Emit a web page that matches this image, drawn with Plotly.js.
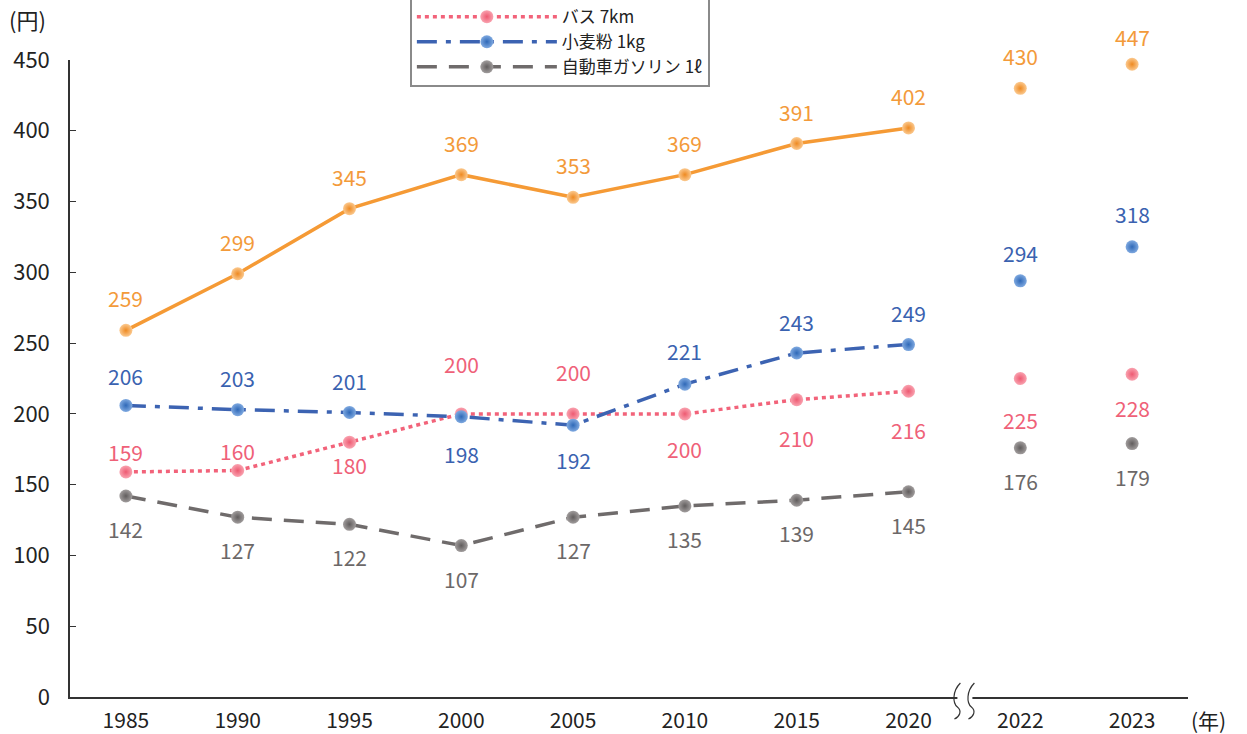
<!DOCTYPE html>
<html>
<head>
<meta charset="utf-8">
<script src="https://cdn.plot.ly/plotly-3.0.1.min.js"></script>
<style>
  html, body { margin: 0; padding: 0; background: #fff; }
  #chart { width: 1247px; height: 734px; }
</style>
</head>
<body>
<div id="chart"></div>
<script>
const years = ['1985', '1990', '1995', '2000', '2005', '2010', '2015', '2020', '2022', '2023'];
const coffee = [259, 299, 345, 369, 353, 369, 391, 402, 430, 447];
const bus = [159, 160, 180, 200, 200, 200, 210, 216, 225, 228];
const flour = [206, 203, 201, 198, 192, 221, 243, 249, 294, 318];
const gasoline = [142, 127, 122, 107, 127, 135, 139, 145, 176, 179];
const seriesNames = ['コーヒー 1杯', 'バス 7km', '小麦粉 1kg', '自動車ガソリン 1ℓ'];

// value label offsets in px (+ above, - below)
const coffeeShift = [32, 32, 32, 32, 32, 32, 32, 32, 32, 27];
const busShift = [20, 20, -23, 50, 42, -35, -38, -39, -41, -34];
const flourShift = [29, 32, 31, -37, -35, 33, 31, 32, 28, 33];
const gasShift = [-33, -33, -33, -33, -33, -33, -33, -33, -33, -33];

const FONT = '"Noto Sans CJK JP", "Noto Sans", sans-serif';
const lastConnected = 8; // 1985..2020 joined by the line, 2022/2023 standalone

const series = [
    { name: seriesNames[0], y: coffee, shift: coffeeShift, line: '#F59A35', mark: '#FBC98F', edge: '#EE8A22', txt: '#F39A3A', dash: 'solid' },
    { name: seriesNames[1], y: bus, shift: busShift, line: '#F2637A', mark: '#F9A3B0', edge: '#EE5A72', txt: '#EF6178', dash: '4px,4px' },
    { name: seriesNames[2], y: flour, shift: flourShift, line: '#3C63B2', mark: '#7FA9E0', edge: '#2F69B8', txt: '#3A62B0', dash: '20px,9px,5px,9px' },
    { name: seriesNames[3], y: gasoline, shift: gasShift, line: '#6F6B6B', mark: '#A19D9D', edge: '#615D5D', txt: '#6C6868', dash: '20px,12px' }
];

const traces = [];
const annotations = [];
series.forEach(s => {
    const marker = {
        size: 13,
        color: s.mark,
        gradient: { type: 'radial', color: s.edge },
        line: { width: 0 }
    };
    traces.push({
        name: s.name,
        type: 'scatter',
        mode: 'lines+markers',
        x: years.slice(0, lastConnected),
        y: s.y.slice(0, lastConnected),
        line: { color: s.line, width: 3.5, dash: s.dash },
        marker: marker,
        cliponaxis: false
    });
    traces.push({
        name: s.name,
        type: 'scatter',
        mode: 'markers',
        x: years.slice(lastConnected),
        y: s.y.slice(lastConnected),
        marker: marker,
        showlegend: false,
        cliponaxis: false
    });
    // category axis: annotations take the category index
    s.y.forEach((v, i) => {
        annotations.push({
            x: i, y: v, xref: 'x', yref: 'y',
            text: String(v), showarrow: false,
            yshift: s.shift[i],
            font: { family: FONT, size: 21, color: s.txt }
        });
    });
});

annotations.push({
    xref: 'paper', yref: 'paper', x: -0.056, y: 1.065, xanchor: 'left', yanchor: 'middle',
    text: '(円)', showarrow: false, font: { family: FONT, size: 22, color: '#222' }
});
annotations.push({
    xref: 'paper', yref: 'paper', x: 1.001, y: -0.036, xanchor: 'left', yanchor: 'middle',
    text: '(年)', showarrow: false, font: { family: FONT, size: 21, color: '#222' }
});

// axis break marks between 2020 and 2022
const pw = 1118, ph = 637;
const bx = 0.8;
function wave(cx) {
    const x = px => (cx + px / pw).toFixed(5);
    const y = py => (-py / ph).toFixed(5);
    return `M ${x(3)},${y(-14)} C ${x(-5)},${y(-6)} ${x(-5)},${y(6)} ${x(0)},${y(10)} S ${x(2)},${y(20)} ${x(-3)},${y(22)}`;
}
const shapes = [
    { type: 'rect', xref: 'paper', yref: 'paper', x0: bx - 7 / pw, x1: bx + 8 / pw, y0: -4 / ph, y1: 4 / ph,
      fillcolor: '#fff', line: { width: 0 }, layer: 'above' },
    { type: 'path', xref: 'paper', yref: 'paper', path: wave(bx - 7 / pw), line: { color: '#333', width: 1.2 }, layer: 'above' },
    { type: 'path', xref: 'paper', yref: 'paper', path: wave(bx + 7 / pw), line: { color: '#333', width: 1.2 }, layer: 'above' }
];

const layout = {
    width: 1247,
    height: 734,
    margin: { l: 70, r: 59, t: 60, b: 37, autoexpand: false },
    paper_bgcolor: '#fff',
    plot_bgcolor: '#fff',
    font: { family: FONT, size: 20, color: '#222' },
    showlegend: true,
    legend: {
        x: 0.304, xanchor: 'left',
        y: 0.9576, yanchor: 'bottom',
        bgcolor: '#fff',
        bordercolor: '#8a8a8a',
        borderwidth: 2,
        font: { family: FONT, size: 17, color: '#222' },
        itemwidth: 140,
        tracegroupgap: 0
    },
    xaxis: {
        type: 'category',
        range: [-0.5, 9.5],
        showline: true,
        linecolor: '#333',
        linewidth: 1.5,
        showgrid: false,
        zeroline: false,
        ticks: '',
        ticklabelstandoff: 4,
        tickfont: { family: FONT, size: 21, color: '#222' }
    },
    yaxis: {
        range: [0, 450],
        dtick: 50,
        showline: true,
        linecolor: '#333',
        linewidth: 1.5,
        showgrid: false,
        zeroline: false,
        ticks: 'inside',
        ticklen: 6,
        tickcolor: '#333',
        ticklabelstandoff: 14,
        tickfont: { family: FONT, size: 22, color: '#222' }
    },
    annotations: annotations,
    shapes: shapes
};

Plotly.newPlot('chart', traces, layout, { displayModeBar: false, responsive: false });
</script>
</body>
</html>
